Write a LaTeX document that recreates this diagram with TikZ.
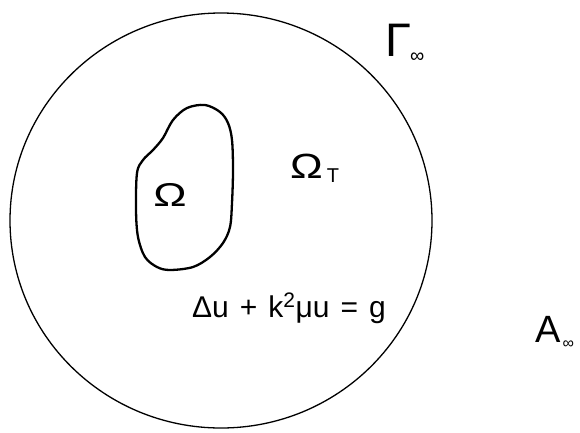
\documentclass[tikz,border=0pt]{standalone}
\usepackage{fontspec}
\setsansfont{Liberation Sans}
\begin{document}
\begin{tikzpicture}[
  x=1pt, y=-1pt,
  bound/.style={line width=1.3pt, black},
  obst/.style={line width=2.3pt, black, line join=round},
  lbl/.style={inner sep=0pt, font=\sffamily},
]
\useasboundingbox (0,0) rectangle (580,432);

% Outer boundary
\draw[bound] (221,220.5) ellipse [x radius=211pt, y radius=207.5pt];

% Scatterer
\draw[obst] plot[smooth cycle, tension=0.55] coordinates {
  (173,120) (187,108) (205,105) (220,112) (228,123) (232,140)
  (233,170) (232,203) (230,227) (223,243) (210,257) (193,267)
  (170,270) (157,267) (145,257) (138,237) (136,210) (137,173)
  (143,160) (153,150) (163,138)};

% Labels
\node[lbl, font=\sffamily\fontsize{33}{33}\selectfont] (om) at (170,195)
  {\scalebox{1.35}[1]{Ω}};
\node[lbl, anchor=base west, font=\sffamily\fontsize{35}{35}\selectfont] (omT) at (290,178)
  {\scalebox{1.25}[1]{Ω}\kern4pt\raisebox{-4pt}{\fontsize{20}{20}\selectfont T}};
\node[lbl, anchor=base west, font=\sffamily\fontsize{30}{30}\selectfont] (eq) at (192,317)
  {\spaceskip=11pt Δu + k\textsuperscript{2}μu = g};
\node[lbl, anchor=base west, font=\sffamily\fontsize{47}{47}\selectfont] (gam) at (385,56)
  {Γ\kern-1pt\raisebox{-6pt}{\fontsize{20}{20}\selectfont ∞}};
\node[lbl, anchor=base west, font=\sffamily\fontsize{38}{38}\selectfont] (ainf) at (535,342)
  {A\kern2pt\raisebox{-6pt}{\fontsize{16}{16}\selectfont ∞}};

\end{tikzpicture}
\end{document}
